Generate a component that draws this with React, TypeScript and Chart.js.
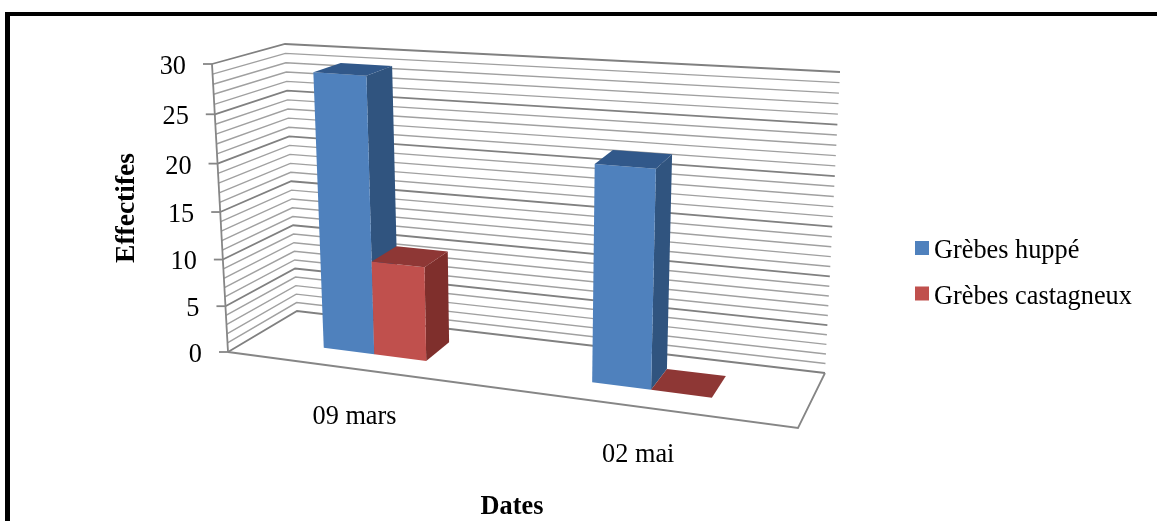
import React, { useEffect, useRef } from "react";
import { Chart, registerables } from "chart.js";

Chart.register(...registerables);

const categories = ["09 mars", "02 mai"];
const seriesNames = ["Grèbes huppé", "Grèbes castagneux"];
const huppe = [29, 22];
const castagneux = [10, 0];

const frontColors = ["#4F81BD", "#C0504D"];
const sideColors = ["#30547F", "#7F2F2C"];
const topColors = ["#31588A", "#8E3735"];

const SERIF = "'Liberation Serif', 'Times New Roman', serif";
const FONT_PX = 26.3;

// 3D view: the eight corners of the plot box, on the page.
type Pt = [number, number];
const VIEW = {
  floorFrontL: [228, 352] as Pt,
  floorFrontR: [798, 428] as Pt,
  floorBackL: [297, 311] as Pt,
  floorBackR: [825, 373] as Pt,
  topFrontL: [212, 64] as Pt,
  topFrontR: [813, 105] as Pt,
  topBackL: [285, 44] as Pt,
  topBackR: [840, 72] as Pt,
  xWarp: 0.856,
  yWarp: 0.9455,
  barDepthFront: 0.33,
  barDepthBack: 0.74,
};

const warp = (t: number, a: number) => (t * a) / (1 + (a - 1) * t);
const mix = (a: Pt, b: Pt, t: number): Pt => [a[0] + (b[0] - a[0]) * t, a[1] + (b[1] - a[1]) * t];

// u: 0..1 along the categories, f: 0..1 along the values, d: 0..1 into depth
function project(u: number, f: number, d: number): Pt {
  const su = warp(u, VIEW.xWarp);
  const sf = warp(f, VIEW.yWarp);
  const floor = mix(mix(VIEW.floorFrontL, VIEW.floorFrontR, su), mix(VIEW.floorBackL, VIEW.floorBackR, su), d);
  const roof = mix(mix(VIEW.topFrontL, VIEW.topFrontR, su), mix(VIEW.topBackL, VIEW.topBackR, su), d);
  return mix(floor, roof, sf);
}

function poly(ctx: CanvasRenderingContext2D, pts: Pt[], fill: string) {
  ctx.beginPath();
  pts.forEach((p, i) => (i ? ctx.lineTo(p[0], p[1]) : ctx.moveTo(p[0], p[1])));
  ctx.closePath();
  ctx.fillStyle = fill;
  ctx.fill();
}

function line(ctx: CanvasRenderingContext2D, pts: Pt[], color: string, width: number) {
  ctx.beginPath();
  pts.forEach((p, i) => (i ? ctx.lineTo(p[0], p[1]) : ctx.moveTo(p[0], p[1])));
  ctx.strokeStyle = color;
  ctx.lineWidth = width;
  ctx.stroke();
}

const frame3d = {
  id: "frame3d",
  beforeDraw(chart: any) {
    const ctx: CanvasRenderingContext2D = chart.ctx;
    ctx.save();
    ctx.fillStyle = "#000";
    ctx.fillRect(5, 12, 1152, 4);
    ctx.fillRect(5, 12, 5, 509);
    ctx.restore();
  },
  // the bars are painted here, from the library's own bar elements
  beforeDatasetsDraw(chart: any) {
    const ctx: CanvasRenderingContext2D = chart.ctx;
    const { x: xs, y: ys } = chart.scales;
    const W = xs.right - xs.left;
    const H = ys.bottom - ys.top;
    ctx.save();

    // walls
    const stepCount = ys.max - ys.min;
    for (let v = 0; v <= stepCount; v++) {
      const f = (ys.bottom - ys.getPixelForValue(v)) / H;
      const major = v % 5 === 0;
      const color = major ? "#808080" : "#A0A0A0";
      const lw = major ? 1.8 : 1.4;
      line(ctx, [project(0, f, 0), project(0, f, 1), project(1, f, 1)], color, lw);
    }
    // floor and axis
    line(ctx, [project(0, 0, 0), project(1, 0, 0), project(1, 0, 1)], "#868686", 1.8);
    line(ctx, [project(0, 0, 0), project(0, 1, 0)], "#868686", 1.8);
    ys.ticks.forEach((t: any) => {
      const f = (ys.bottom - ys.getPixelForValue(t.value)) / H;
      const p = project(0, f, 0);
      line(ctx, [[p[0] - 9, p[1]], p], "#868686", 1.8);
    });

    // bars
    const nCats = categories.length;
    for (let c = 0; c < nCats; c++) {
      chart.data.datasets.forEach((_: any, s: number) => {
        const el = chart.getDatasetMeta(s).data[c];
        const u1 = (el.x - el.width / 2 - xs.left) / W;
        const u2 = (el.x + el.width / 2 - xs.left) / W;
        const f = (ys.bottom - el.y) / H;
        const d1 = VIEW.barDepthFront;
        const d2 = VIEW.barDepthBack;
        poly(ctx, [project(u2, 0, d1), project(u2, 0, d2), project(u2, f, d2), project(u2, f, d1)], sideColors[s]);
        poly(ctx, [project(u1, 0, d1), project(u2, 0, d1), project(u2, f, d1), project(u1, f, d1)], frontColors[s]);
        poly(ctx, [project(u1, f, d1), project(u2, f, d1), project(u2, f, d2), project(u1, f, d2)], topColors[s]);
      });
    }

    // axis labels
    ctx.font = `${FONT_PX}px ${SERIF}`;
    ctx.fillStyle = "#000";
    ctx.textBaseline = "middle";
    ctx.textAlign = "right";
    ys.ticks.forEach((t: any) => {
      const f = (ys.bottom - ys.getPixelForValue(t.value)) / H;
      const p = project(0, f, 0);
      ctx.fillText(t.label, p[0] - 26, p[1] + 3);
    });
    ctx.textAlign = "center";
    xs.ticks.forEach((t: any, i: number) => {
      const p = project((xs.getPixelForTick(i) - xs.left) / W, 0, 0);
      ctx.fillText(xs.getLabelForValue(t.value), p[0], p[1] + 48);
    });

    // legend
    ctx.textAlign = "left";
    ctx.textBaseline = "alphabetic";
    chart.data.datasets.forEach((ds: any, s: number) => {
      const top = 241 + s * 45.5;
      ctx.fillStyle = ds.backgroundColor;
      ctx.fillRect(915, top, 14, 14);
      ctx.fillStyle = "#000";
      ctx.fillText(ds.label, 934, top + 17);
    });
    ctx.restore();
    return false;
  },
};

export default function App() {
  const ref = useRef<HTMLCanvasElement>(null);
  useEffect(() => {
    const chart = new Chart(ref.current as HTMLCanvasElement, {
      type: "bar",
      plugins: [frame3d],
      data: {
        labels: categories,
        datasets: [
          { label: seriesNames[0], data: huppe, backgroundColor: frontColors[0] },
          { label: seriesNames[1], data: castagneux, backgroundColor: frontColors[1] },
        ],
      },
      options: {
        responsive: false,
        animation: false,
        layout: { padding: { left: 110, right: 361, top: 64, bottom: 0 } },
        datasets: { bar: { categoryPercentage: 0.4, barPercentage: 1 } },
        plugins: { legend: { display: false }, tooltip: { enabled: false } },
        scales: {
          x: {
            grid: { display: false },
            border: { display: false },
            ticks: { display: false },
            title: {
              display: true,
              text: "Dates",
              padding: 0,
              color: "#000",
              font: { family: SERIF, size: FONT_PX, weight: "bold", lineHeight: 1.05 },
            },
            afterFit: (s: any) => {
              s.height = 169;
            },
          },
          y: {
            min: 0,
            max: 30,
            grid: { display: false },
            border: { display: false },
            ticks: { display: false, stepSize: 5 },
            title: {
              display: true,
              text: "Effectifes",
              padding: 0,
              color: "#000",
              font: { family: SERIF, size: 27.5, weight: "bold" },
            },
            afterFit: (s: any) => {
              s.width = 118;
            },
          },
        },
      } as any,
    });
    return () => chart.destroy();
  }, []);
  return (
    <div style={{ position: "absolute", left: 0, top: 0, width: 1157, height: 521, background: "#fff" }}>
      <canvas ref={ref} width={1157} height={521} style={{ display: "block" }} />
    </div>
  );
}
